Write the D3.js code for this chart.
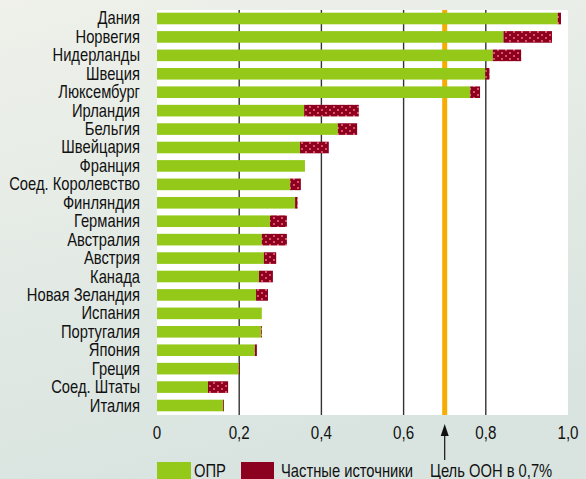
<!DOCTYPE html>
<html>
<head>
<meta charset="utf-8">
<script src="https://cdn.jsdelivr.net/npm/d3@7"></script>
<style>
  body { margin: 0; padding: 0; }
  svg { display: block; }
  text { font-family: "Liberation Sans", Arial, sans-serif; fill: #111; }
</style>
</head>
<body>
<div id="chart"></div>
<script>
// data
var countries = ["Дания", "Норвегия", "Нидерланды", "Швеция", "Люксембург", "Ирландия", "Бельгия",
  "Швейцария", "Франция", "Соед. Королевство", "Финляндия", "Германия", "Австралия", "Австрия",
  "Канада", "Новая Зеландия", "Испания", "Португалия", "Япония", "Греция", "Соед. Штаты", "Италия"];
var opr = [0.975, 0.843, 0.817, 0.799, 0.762, 0.358, 0.440, 0.348, 0.360, 0.324, 0.336, 0.275,
  0.255, 0.260, 0.248, 0.241, 0.255, 0.253, 0.238, 0.199, 0.124, 0.161];
var privateSrc = [0.008, 0.118, 0.069, 0.010, 0.024, 0.133, 0.047, 0.070, 0, 0.026, 0.006, 0.041,
  0.061, 0.030, 0.034, 0.029, 0, 0.002, 0.005, 0.002, 0.049, 0.002];
var ticks = [0, 0.2, 0.4, 0.6, 0.8, 1.0];
var tickLabels = ["0", "0,2", "0,4", "0,6", "0,8", "1,0"];
var goal = 0.7;
var legendLabels = ["ОПР", "Частные источники", "Цель ООН в 0,7%"];

var W = 586, H = 479;
var green = "#94c91a", red = "#8c0020", orange = "#f4ad00";
var narrow = 0.82; // horizontal squeeze, the original uses a condensed face

var svg = d3.select("#chart").append("svg").attr("width", W).attr("height", H);
var defs = svg.append("defs");
var bg = defs.append("linearGradient").attr("id", "bg").attr("x1", 0).attr("y1", 0).attr("x2", 0.3).attr("y2", 1);
bg.append("stop").attr("offset", "0%").attr("stop-color", "#eff1ea");
bg.append("stop").attr("offset", "100%").attr("stop-color", "#d9e4e0");
var pat = defs.append("pattern").attr("id", "dots").attr("patternUnits", "userSpaceOnUse")
  .attr("width", 8).attr("height", 6);
pat.append("rect").attr("width", 8).attr("height", 6).attr("fill", red);
pat.append("rect").attr("x", 1).attr("y", 1).attr("width", 2).attr("height", 2).attr("fill", "#e05060");
pat.append("rect").attr("x", 5).attr("y", 4).attr("width", 2).attr("height", 2).attr("fill", "#e05060");

svg.append("rect").attr("width", W).attr("height", H).attr("fill", "url(#bg)");

function label(g, px, py, size, anchor, txt) {
  return g.append("text")
    .attr("transform", "translate(" + px + "," + py + ") scale(" + narrow + ",1)")
    .attr("text-anchor", anchor).attr("font-size", size).text(txt);
}

var x = d3.scaleLinear().domain([0, 1]).range([157, 568]);
var y = d3.scaleBand().domain(countries).range([9, 415]).paddingInner(0.37).paddingOuter(0.2);

// plot area
svg.append("rect").attr("x", x(0)).attr("y", 10).attr("width", x(1) - x(0)).attr("height", 405).attr("fill", "#fff");

// grid lines
svg.selectAll(".grid").data(ticks.slice(1, 5)).enter().append("line")
  .attr("x1", d => x(d)).attr("x2", d => x(d)).attr("y1", 10).attr("y2", 415)
  .attr("stroke", "#333").attr("stroke-width", 1.4);

// goal line
svg.append("line").attr("x1", x(goal)).attr("x2", x(goal)).attr("y1", 10).attr("y2", 415)
  .attr("stroke", orange).attr("stroke-width", 5);

// bars
var rows = svg.selectAll(".row").data(countries).enter().append("g");
rows.append("rect").attr("x", x(0)).attr("y", d => y(d))
  .attr("width", (d, i) => x(opr[i]) - x(0)).attr("height", y.bandwidth()).attr("fill", green);
rows.append("rect").attr("x", (d, i) => x(opr[i])).attr("y", d => y(d))
  .attr("width", (d, i) => x(opr[i] + privateSrc[i]) - x(opr[i])).attr("height", y.bandwidth())
  .attr("fill", "url(#dots)");
countries.forEach(function (c) {
  label(svg, 140, y(c) + y.bandwidth() / 2 + 6, 18, "end", c);
});

// x tick labels
ticks.forEach(function (t, i) {
  label(svg, x(t), 439, 18.5, "middle", tickLabels[i]);
});

// arrow for goal
svg.append("line").attr("x1", x(goal)).attr("x2", x(goal)).attr("y1", 430).attr("y2", 460)
  .attr("stroke", "#111").attr("stroke-width", 1.2);
svg.append("path").attr("d", "M" + x(goal) + ",424 l-4,12 l8,0 z").attr("fill", "#111");

// legend
svg.append("rect").attr("x", 157).attr("y", 462).attr("width", 34).attr("height", 17).attr("fill", green);
svg.append("rect").attr("x", 241).attr("y", 462).attr("width", 33).attr("height", 17).attr("fill", red);
label(svg, 194, 477, 18, "start", legendLabels[0]);
label(svg, 281, 477, 18, "start", legendLabels[1]);
label(svg, 430, 477, 18, "start", legendLabels[2]);
</script>
</body>
</html>
